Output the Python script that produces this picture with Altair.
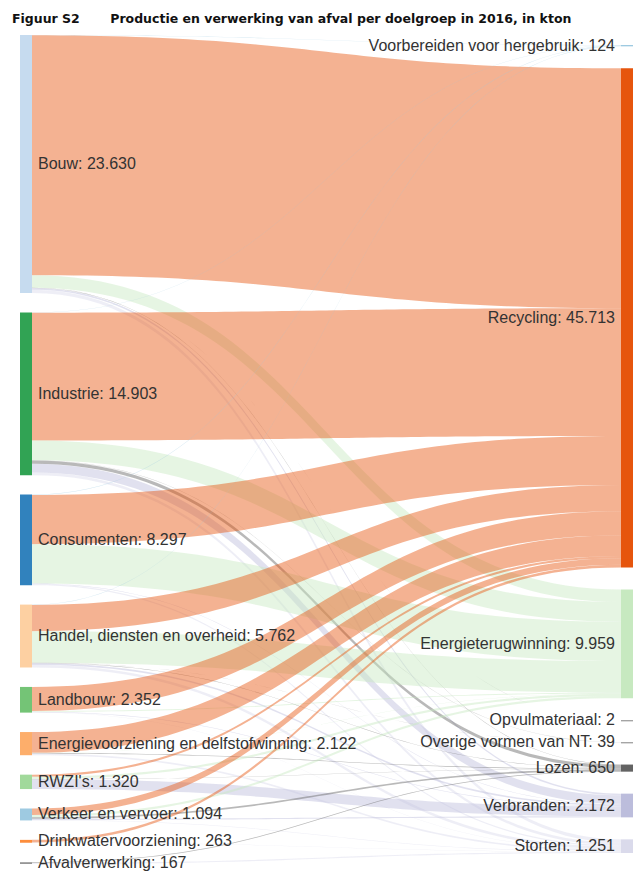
import altair as alt
import numpy as np
import pandas as pd

# ---------------- data (kton, 2016) ----------------
sources = ["Bouw", "Industrie", "Consumenten", "Handel, diensten en overheid", "Landbouw",
           "Energievoorziening en delfstofwinning", "RWZI's", "Verkeer en vervoer",
           "Drinkwatervoorziening", "Afvalverwerking"]
source_totals = [23630, 14903, 8297, 5762, 2352, 2122, 1320, 1094, 263, 167]
source_colors = ["#c6dbef", "#31a354", "#3182bd", "#fdd0a2", "#74c476",
                 "#fdae6b", "#a1d99b", "#9ecae1", "#fd8d3c", "#969696"]

targets = ["Voorbereiden voor hergebruik", "Recycling", "Energieterugwinning", "Opvulmateriaal",
           "Overige vormen van NT", "Lozen", "Verbranden", "Storten"]
target_totals = [124, 45713, 9959, 2, 39, 650, 2172, 1251]
target_colors = ["#9ecae1", "#e6550d", "#c7e9c0", "#969696",
                 "#969696", "#636363", "#bcbddc", "#dadaeb"]

# flows from each source (in source order) to each target
to_voorbereiden = [30, 23, 40, 31, 0, 0, 0, 0, 0, 0]
to_recycling = [21968, 11705, 4500, 2400, 2200, 1900, 200, 600, 240, 0]
to_energie = [1150, 1810, 3600, 2900, 80, 19, 200, 200, 0, 0]
to_opvul = [2, 0, 0, 0, 0, 0, 0, 0, 0, 0]
to_overige = [0, 30, 0, 9, 0, 0, 0, 0, 0, 0]
to_lozen = [28, 300, 0, 32, 0, 53, 20, 150, 0, 67]
to_verbranden = [150, 785, 37, 150, 50, 0, 900, 100, 0, 0]
to_storten = [302, 250, 120, 240, 22, 150, 0, 44, 23, 100]
flow_lists = [to_voorbereiden, to_recycling, to_energie, to_opvul,
              to_overige, to_lozen, to_verbranden, to_storten]

# ---------------- layout (computed from the data) ----------------
W, H = 613, 829
GAP_L, GAP_R, OFF_R = 1780, 2014, 915      # node spacing in kton units
NODE_PX = 12
NW = NODE_PX / W

left_y0, y = [], 0
for v in source_totals:
    left_y0.append(y)
    y += v + GAP_L
D = y - GAP_L
K = H / D  # px per kton

right_y0, y = [], OFF_R
for v in target_totals:
    right_y0.append(y)
    y += v + GAP_R

def fmt(v):
    return f"{v:,}".replace(",", ".")

flow = np.array(flow_lists).T  # [source, target]
src_cursor = list(left_y0)
tgt_cursor = list(right_y0)
link_pos = {}
for i in range(len(sources)):
    for j in range(len(targets)):
        v = flow[i, j]
        if v > 0:
            link_pos[(i, j)] = [src_cursor[i], None, v]
            src_cursor[i] += v
for j in range(len(targets)):
    for i in range(len(sources)):
        if (i, j) in link_pos:
            link_pos[(i, j)][1] = tgt_cursor[j]
            tgt_cursor[j] += flow[i, j]

t = np.linspace(0, 1, 61)
x0, x1 = NW, 1 - NW
xm = (x0 + x1) / 2
xs_curve = x0 * (1 - t) ** 3 + 3 * xm * (1 - t) ** 2 * t + 3 * xm * (1 - t) * t ** 2 + x1 * t ** 3
s = 3 * t ** 2 - 2 * t ** 3
rows = []
for n, ((i, j), (ys0, yt0, v)) in enumerate(link_pos.items()):
    top = ys0 + (yt0 - ys0) * s
    for xx, tp in zip(xs_curve, top):
        rows.append({"link": f"L{n:03d}", "x": xx, "y": tp, "y2": tp + v,
                     "color": target_colors[j]})
links_df = pd.DataFrame(rows)

MIN_H = 1.2 / K
node_rows = []
for name, v, y0, c in zip(sources, source_totals, left_y0, source_colors):
    node_rows.append({"x": 0.0, "x2": NW, "y": y0, "y2": y0 + max(v, MIN_H), "color": c})
for name, v, y0, c in zip(targets, target_totals, right_y0, target_colors):
    node_rows.append({"x": 1 - NW, "x2": 1.0, "y": y0, "y2": y0 + max(v, MIN_H), "color": c})
nodes_df = pd.DataFrame(node_rows)

left_labels = pd.DataFrame({
    "label": [f"{n}: {fmt(v)}" for n, v in zip(sources, source_totals)],
    "x": [NW] * len(sources),
    "y": [y0 + v / 2 for y0, v in zip(left_y0, source_totals)],
})
right_labels = pd.DataFrame({
    "label": [f"{n}: {fmt(v)}" for n, v in zip(targets, target_totals)],
    "x": [1 - NW] * len(targets),
    "y": [y0 + v / 2 for y0, v in zip(right_y0, target_totals)],
})

xsc = alt.Scale(domain=[0, 1], nice=False, zero=False)
ysc = alt.Scale(domain=[0, D], reverse=True, nice=False, zero=False)

links = alt.Chart(links_df).mark_area(opacity=0.45, interpolate="linear").encode(
    x=alt.X("x:Q", scale=xsc, axis=None),
    y=alt.Y("y:Q", scale=ysc, axis=None, stack=None),
    y2="y2:Q",
    color=alt.Color("color:N", scale=None),
    detail="link:N",
)

nodes = alt.Chart(nodes_df).mark_rect().encode(
    x=alt.X("x:Q", scale=xsc, axis=None),
    x2="x2:Q",
    y=alt.Y("y:Q", scale=ysc, axis=None),
    y2="y2:Q",
    color=alt.Color("color:N", scale=None),
)

txt_style = dict(font="Liberation Sans", fontSize=16, color="#333333", baseline="middle")
ltxt = alt.Chart(left_labels).mark_text(align="left", dx=6, **txt_style).encode(
    x=alt.X("x:Q", scale=xsc, axis=None),
    y=alt.Y("y:Q", scale=ysc, axis=None),
    text="label:N",
)
rtxt = alt.Chart(right_labels).mark_text(align="right", dx=-6, **txt_style).encode(
    x=alt.X("x:Q", scale=xsc, axis=None),
    y=alt.Y("y:Q", scale=ysc, axis=None),
    text="label:N",
)

title_text = "Figuur S2" + "\u00a0" * 7 + "Productie en verwerking van afval per doelgroep in 2016, in kton"

chart = alt.layer(links, nodes, ltxt, rtxt).properties(
    width=W, height=H,
    autosize=alt.AutoSizeParams(type="none"),
    padding={"left": 12, "top": 27, "right": 0, "bottom": 10},
    title=alt.Title(text=title_text, anchor="start", dx=-8, offset=10,
                    font="DejaVu Sans", fontSize=12.5, fontWeight="bold", color="#111111"),
).configure_view(stroke=None)

chart.save("out.html", embed_options={"renderer": "svg", "actions": False})
